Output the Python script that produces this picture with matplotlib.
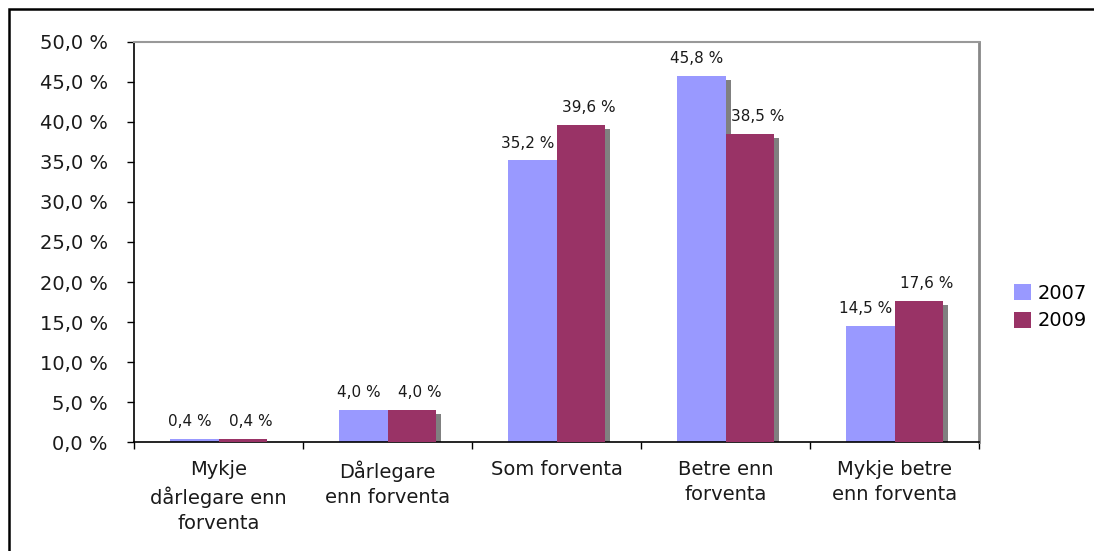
import numpy as np
import matplotlib.pyplot as plt
from matplotlib.patches import Rectangle, Patch

categories = ['Mykje\ndårlegare enn\nforventa', 'Dårlegare\nenn forventa', 'Som forventa',
              'Betre enn\nforventa', 'Mykje betre\nenn forventa']
years = ['2007', '2009']
v2007 = [0.4, 4.0, 35.2, 45.8, 14.5]
v2009 = [0.4, 4.0, 39.6, 38.5, 17.6]
yticks = [0, 5, 10, 15, 20, 25, 30, 35, 40, 45, 50]

blue = '#9999FF'
red = '#993366'
shadow = '#808080'
txt = '#1a1a1a'

plt.rcParams['font.family'] = ['DejaVu Sans']

fig = plt.figure(figsize=(10.94, 5.51), dpi=100)
ax = fig.add_axes([0.1225, 0.1978, 0.7724, 0.726])

x = np.arange(len(categories))
w = 0.287
sdx = 5 / 169.0   # shadow offset in data units
sdy = 0.5

# shadows
for vals, off in [(v2007, -w / 2), (v2009, w / 2)]:
    for xi, v in zip(x, vals):
        h = max(v - sdy, 0)
        if h > 0:
            ax.bar(xi + off + sdx, h, width=w, color=shadow, zorder=1, align='center')

b1 = ax.bar(x - w / 2, v2007, width=w, color=blue, zorder=2, label='2007')
b2 = ax.bar(x + w / 2, v2009, width=w, color=red, zorder=3, label='2009')

for xi, v in zip(x, v2007):
    ax.annotate(f'{v:.1f} %'.replace('.', ','), (xi - w / 2, v), xytext=(-3, 7),
                textcoords='offset points', ha='center', va='bottom', fontsize=11, color=txt)
for xi, v in zip(x, v2009):
    ax.annotate(f'{v:.1f} %'.replace('.', ','), (xi + w / 2, v), xytext=(6, 7),
                textcoords='offset points', ha='center', va='bottom', fontsize=11, color=txt)

ax.set_xlim(-0.5, len(categories) - 0.5)
ax.set_ylim(0, 50)
ax.set_yticks(yticks)
ax.set_yticklabels([f'{t:.1f} %'.replace('.', ',') for t in yticks], fontsize=14, color=txt)
ax.tick_params(axis='y', direction='out', length=5, width=1, pad=14)

ax.set_xticks(np.arange(-0.5, len(categories), 1.0))
ax.set_xticklabels([])
ax.set_xticks(x, minor=True)
ax.set_xticklabels(categories, minor=True, fontsize=14, linespacing=1.4, color=txt)
ax.tick_params(axis='x', which='major', direction='out', length=5, width=1)
ax.tick_params(axis='x', which='minor', length=0, pad=13)

for s in ['left', 'bottom']:
    ax.spines[s].set_color('black')
    ax.spines[s].set_linewidth(1.2)
ax.spines['top'].set_color('#999999')
ax.spines['top'].set_linewidth(1.5)
ax.spines['right'].set_color('#888888')
ax.spines['right'].set_linewidth(2)

handles = [Patch(facecolor=blue, label='2007'), Patch(facecolor=red, label='2009')]
fig.legend(handles=handles, loc='center left', bbox_to_anchor=(0.9195, 0.443),
           frameon=False, fontsize=14, handlelength=0.9, handleheight=0.9,
           handletextpad=0.35, labelspacing=0.45, borderaxespad=0)

# outer chart border
fig.patches.append(Rectangle((9 / 1094, -0.05), 1.1, 1.05 - 9 / 551, transform=fig.transFigure,
                             fill=False, edgecolor='black', linewidth=1.8))

fig.savefig('out.png', dpi=100)
